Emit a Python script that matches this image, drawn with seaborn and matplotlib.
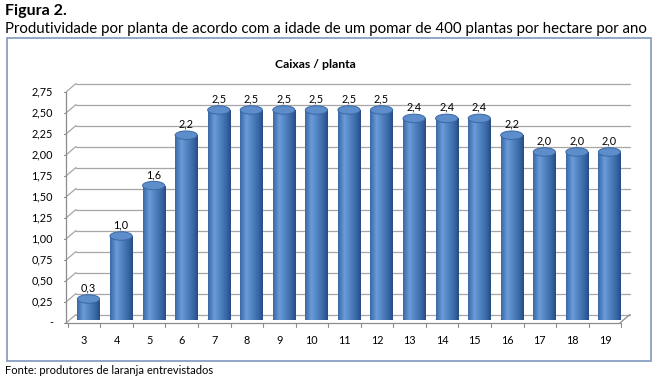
import numpy as np
import pandas as pd
import matplotlib
matplotlib.use("Agg")
import matplotlib.pyplot as plt
import seaborn as sns
from matplotlib.transforms import ScaledTranslation
from matplotlib.patches import Ellipse, Rectangle
from matplotlib.colors import LinearSegmentedColormap
from decimal import Decimal, ROUND_HALF_UP

# ---------------- data ----------------
ages = [3, 4, 5, 6, 7, 8, 9, 10, 11, 12, 13, 14, 15, 16, 17, 18, 19]
values = [0.25, 1.0, 1.6, 2.2, 2.5, 2.5, 2.5, 2.5, 2.5, 2.5, 2.4, 2.4, 2.4, 2.2, 2.0, 2.0, 2.0]
y_ticks = [0, 0.25, 0.5, 0.75, 1.0, 1.25, 1.5, 1.75, 2.0, 2.25, 2.5, 2.75]
y_tick_labels = ["-", "0,25", "0,50", "0,75", "1,00", "1,25", "1,50", "1,75",
                 "2,00", "2,25", "2,50", "2,75"]
fig_title = "Figura 2."
fig_subtitle = "Produtividade por planta de acordo com a idade de um pomar de 400 plantas por hectare por ano"
chart_title = "Caixas / planta"
source_note = "Fonte: produtores de laranja entrevistados"

# ---------------- style ----------------
sns.set_theme(style="white")
plt.rcParams["font.family"] = ["Lato", "DejaVu Sans"]

W, H = 660, 377
fig = plt.figure(figsize=(W / 100, H / 100), dpi=100)
fig.patch.set_facecolor("white")

px_cat = 32.56      # pixels per category
x0px = 88.5         # pixel x of first bar centre
y0px = 320.0        # pixel y of bar baseline
ppu = 84.0          # pixels per y unit
xlo, xhi = -0.6, 16.6
left = x0px + xlo * px_cat
right = x0px + xhi * px_cat
ax = fig.add_axes([left / W, (H - y0px) / H, (right - left) / W, 2.75 * ppu / H])

df = pd.DataFrame({"idade": [str(a) for a in ages], "caixas": values})
sns.barplot(data=df, x="idade", y="caixas", ax=ax, width=0.68,
            color="#4F81BD", saturation=1, zorder=3)
ax.set_xlim(xlo, xhi)
ax.set_ylim(0, 2.75)
ax.axis("off")

front = ax.transData + ScaledTranslation(-4.5 / 100, -3 / 100, fig.dpi_scale_trans)
ddx = 10 / px_cat
ddy = 8.5 / ppu
xf0, xf1 = -0.553, 16.46
grid_c = "#A6A6A6"

# back wall gridlines + diagonals
for t in y_ticks:
    ax.plot([xf0 + ddx, xf1 + ddx], [t + ddy, t + ddy], transform=front,
            color=grid_c, lw=0.9, clip_on=False, zorder=0)
    ax.plot([xf0, xf0 + ddx], [t, t + ddy], transform=front,
            color=grid_c, lw=0.9, clip_on=False, zorder=0)
    ax.plot([xf0 - 0.07, xf0], [t, t], transform=front,
            color="#8C8C8C", lw=0.8, clip_on=False, zorder=1)
# front axis and floor
ax.plot([xf0, xf0], [0, 2.75], transform=front, color="#8C8C8C", lw=0.9,
        clip_on=False, zorder=1)
ax.plot([xf0, xf1], [0, 0], transform=front, color="#8C8C8C", lw=0.9,
        clip_on=False, zorder=1)
ax.plot([xf1, xf1 + ddx], [0, ddy], transform=front, color="#8C8C8C", lw=0.9,
        clip_on=False, zorder=1)
for b in range(len(ages) + 1):
    xb = b - 0.5
    ax.plot([xb, xb], [0, -4 / ppu], transform=front, color="#8C8C8C",
            lw=0.8, clip_on=False, zorder=1)

# tick labels
for t, lab in zip(y_ticks, y_tick_labels):
    ax.text(xf0 - 13 / px_cat, t, lab, transform=front, ha="right",
            va="center", fontsize=7.8, color="#000000", clip_on=False)
for i, a in enumerate(ages):
    ax.text(i, -18 / ppu, str(a), transform=front, ha="center",
            va="center", fontsize=7.8, color="#000000", clip_on=False)

# cylinders
cmap = LinearSegmentedColormap.from_list(
    "cyl", [(0.0, "#3A68A6"), (0.28, "#6C9CD8"), (0.55, "#4F81C0"),
            (0.85, "#3563A0"), (1.0, "#264C82")])
grad = np.linspace(0, 1, 64).reshape(1, -1)
eh = 8.5 / ppu
for p, v in zip(list(ax.patches), values):
    x, w, h = p.get_x(), p.get_width(), p.get_height()
    p.set_edgecolor("none")
    im = ax.imshow(grad, cmap=cmap, extent=[x, x + w, 0, h], aspect="auto",
                   zorder=3.1, interpolation="bicubic")
    im.set_clip_path(p)
    be = Ellipse((x + w / 2, 0), w, eh, facecolor="#3F6EAB", edgecolor="none",
                 zorder=3)
    ax.add_patch(be)
    im2 = ax.imshow(grad, cmap=cmap, extent=[x, x + w, -eh / 2, 0.001],
                    aspect="auto", zorder=3.05, interpolation="bicubic")
    im2.set_clip_path(be)
    te = Ellipse((x + w / 2, h), w, eh, facecolor="#5D8DCB",
                 edgecolor="#3A68A3", lw=0.7, zorder=3.2)
    ax.add_patch(te)
    lab = str(Decimal(str(v)).quantize(Decimal("0.1"), rounding=ROUND_HALF_UP)).replace(".", ",")
    ax.text(x + w / 2, h + 11 / ppu, lab, ha="center", va="center",
            fontsize=7.8, color="#000000", zorder=4, clip_on=False)

ax.set_xlim(xlo, xhi)
ax.set_ylim(0, 2.75)

# frame box and titles
fig.add_artist(Rectangle((7 / W, 1 - 361 / H), (651 - 7) / W, (361 - 38) / H,
                         transform=fig.transFigure, fill=False,
                         edgecolor="#7F98BA", lw=1.2))
fig.text(315 / W, 1 - 65 / H, chart_title, ha="center", va="center",
         fontsize=8.8, fontweight="bold", color="#000000")
fig.text(5 / W, 1 - 11 / H, fig_title, ha="left", va="center",
         fontsize=11.5, fontweight="bold", color="#000000")
fig.text(5 / W, 1 - 29 / H, fig_subtitle, ha="left", va="center",
         fontsize=10.85, color="#000000")
fig.text(5 / W, 1 - 371 / H, source_note, ha="left", va="center",
         fontsize=8.0, color="#000000")

fig.savefig("out.png", dpi=100)
